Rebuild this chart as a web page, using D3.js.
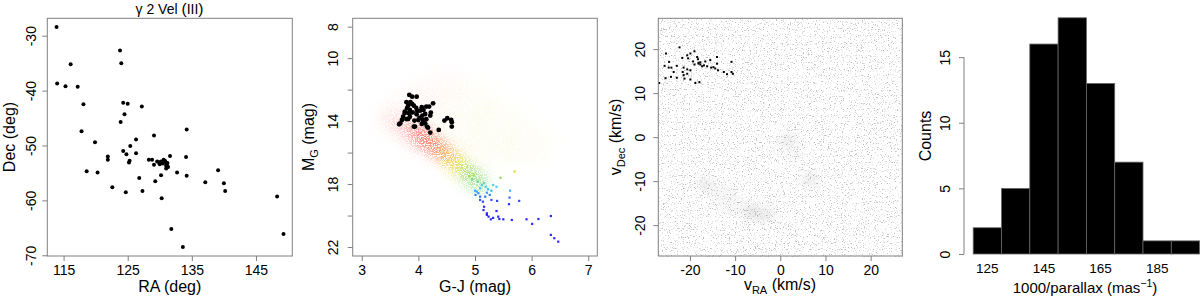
<!DOCTYPE html>
<html><head><meta charset="utf-8">
<script src="https://cdn.jsdelivr.net/npm/d3@7"></script>
<style>
html,body{margin:0;padding:0;background:#fff;}
svg{display:block;font-family:"Liberation Sans",Arial,Helvetica,sans-serif;}
</style></head>
<body>
<svg id="c" width="1200" height="299"></svg>
<script>
// ---------- DATA ----------
const titleParts = ["γ 2 Vel ", "(", "III", ")"];
// Panel 1: sky positions
const skyRA  = [113.9,123.8,124.0,116.1,114.0,115.3,117.2,118.1,124.3,125.0,127.2,124.5,123.9,117.8,134.2,129.1,126.3,119.9,125.4,124.3,124.8,126.3,121.9,121.9,125.3,125.2,128.3,128.8,129.1,129.9,130.2,130.6,130.9,131.2,131.0,131.3,131.0,131.6,134.1,118.6,120.3,132.7,130.2,134.2,126.8,139.1,129.3,137.1,140.0,122.6,127.3,124.7,140.2,130.3,148.3,131.8,149.3,133.6,130.5,130.8,131.1,129.6,130.0];
const skyDec = [-28.4,-32.7,-35.0,-35.2,-38.7,-39.2,-39.3,-42.5,-42.2,-42.4,-42.9,-44.3,-45.7,-47.4,-47.1,-48.2,-48.9,-49.4,-50.1,-51.0,-51.6,-51.4,-52.0,-52.6,-52.8,-53.1,-52.6,-52.6,-53.5,-53.1,-52.9,-52.6,-53.0,-53.2,-53.7,-53.9,-54.2,-51.9,-52.1,-54.7,-54.9,-54.9,-55.4,-55.5,-55.9,-54.5,-56.5,-56.7,-56.9,-57.6,-58.3,-58.5,-58.3,-59.6,-59.3,-65.2,-66.1,-68.5,-53.3,-52.8,-53.5,-52.9,-53.4];
const raTicks = [115,125,135,145];
const decTicks = [-30,-40,-50,-60,-70];

// Panel 2: colour-magnitude diagram
const memGJ = [3.84,3.89,3.79,3.86,3.92,3.82,4.26,4.19,4.14,3.80,3.85,4.09,3.90,3.98,3.76,3.83,4.22,3.97,4.07,3.73,3.79,4.02,4.14,4.21,3.71,3.68,3.93,4.09,4.06,4.12,3.92,4.15,4.51,4.58,4.46,4.59,4.36,4.21,4.59,3.97,4.06,4.03,3.76,3.87,4.00,4.17,3.94,3.82,4.08,4.12,3.89,3.66,3.85,3.96];
const memMG = [12.34,12.45,12.80,12.80,13.02,13.02,12.87,13.08,13.08,13.18,13.29,13.29,13.44,13.34,13.50,13.50,13.46,13.57,13.65,13.72,13.88,13.80,13.88,13.65,13.93,14.14,13.97,14.04,14.18,14.14,14.35,14.35,13.82,13.93,13.97,14.07,14.56,14.73,14.35,12.45,13.12,13.34,13.40,13.46,13.93,14.42,14.35,13.86,13.93,13.55,12.91,14.20,13.73,13.16];
const fieldGJ = [6.34,6.01,5.91,6.12,5.65,5.50,5.43,5.41,5.32,5.28,5.24,5.21,6.34,6.40,6.47,5.78,5.61,5.60,5.62,5.38,5.16,5.14,5.09,5.00,5.01,5.06,5.18,5.21,5.26,5.29,5.39,5.38,5.12,5.16,5.19,5.09,5.32,5.23,5.29,5.03,5.09,5.15,5.21,4.95,4.90,5.05,4.98,5.45,5.70];
const fieldMG = [20.03,20.53,20.24,20.22,20.28,20.24,20.22,20.07,20.15,20.24,20.07,19.96,21.23,21.44,21.66,19.07,18.86,19.28,18.42,19.71,19.44,19.12,18.80,18.42,18.69,18.58,18.80,18.55,18.69,19.01,19.07,18.17,18.06,17.95,18.17,18.27,18.06,18.33,18.42,18.48,19.01,19.65,19.86,17.70,17.50,17.85,17.40,17.60,17.20];
// diffuse field population (density ridge)
const cloudGJ = [3.55,3.80,4.00,4.15,4.30,4.45,4.58,4.70,4.80,4.90,5.00];
const cloudMG = [14.0,14.4,14.8,15.2,15.6,16.0,16.4,16.8,17.1,17.4,17.7];
const fanGJ = [3.9,4.4,4.9,5.4,5.9,4.6,5.2];
const fanMG = [13.0,12.0,12.8,14.0,15.5,14.8,16.0];
const gjTicks = [3,4,5,6,7];
const mgTicks = [8,10,12,14,16,18,20,22];
const mgLabels = [8,10,14,18,22];

// Panel 3: tangential velocities
const velRA  = [-22.3,-19.0,-25.3,-19.9,-20.6,-18.4,-21.7,-20.4,-14.0,-18.2,-15.5,-16.6,-24.6,-10.8,-18.1,-17.7,-19.0,-17.3,-16.2,-14.8,-14.0,-25.6,-24.7,-24.1,-22.9,-21.4,-20.6,-19.9,-15.3,-14.4,-13.8,-12.5,-10.8,-11.8,-10.5,-23.6,-21.6,-20.6,-25.4,-24.2,-22.9,-21.4,-21.2,-19.9,-18.8,-17.9,-26.8,-17.7,-18.1,-19.3,-16.9];
const velDec = [20.4,19.5,19.0,19.0,18.6,18.2,18.0,17.9,18.2,17.7,17.5,17.2,17.1,17.1,16.9,16.5,16.5,16.1,16.1,15.9,16.7,16.2,15.8,15.8,16.2,15.8,15.4,15.2,15.8,15.6,15.2,14.8,14.8,14.3,14.4,14.8,14.8,14.4,13.4,13.7,13.5,14.1,13.3,13.1,12.3,12.5,12.3,17.0,16.7,17.2,16.3];
// field over-densities in velocity space
const blobRA  = [1.5,6.5,-7.0,-4.0,-16.5,-12.0,3.5];
const blobDec = [-0.8,-9.6,-16.6,-17.5,-10.8,-14.0,-4.0];
const vTicks = [-20,-10,0,10,20];

// Panel 4: histogram of distance
const distEdges  = [120,130,140,150,160,170,180,190,200];
const distCounts = [2,5,16,18,13,7,1,1];
const distLabels = [125,145,165,185];
const countTicks = [0,5,10,15];

// ---------- DRAWING ----------
const svg = d3.select("#c");
const gray = "#808080";
const defs = svg.append("defs");

// speckle texture filter (panel 3 field)
const f1 = defs.append("filter").attr("id","speckle").attr("filterUnits","userSpaceOnUse")
  .attr("x",658).attr("y",18).attr("width",245).attr("height",239);
f1.append("feTurbulence").attr("type","fractalNoise").attr("baseFrequency","0.85").attr("numOctaves",2).attr("seed",5).attr("result","n");
f1.append("feColorMatrix").attr("in","n").attr("type","matrix")
  .attr("values","0 0 0 0 0.52  0 0 0 0 0.52  0 0 0 0 0.52  6 0 0 0 -3.55");

// speckled cloud filter (panel 2 field)
const f2 = defs.append("filter").attr("id","cloudf").attr("filterUnits","userSpaceOnUse")
  .attr("x",353).attr("y",18).attr("width",245).attr("height",239);
f2.append("feGaussianBlur").attr("in","SourceGraphic").attr("stdDeviation",7).attr("result","b");
f2.append("feTurbulence").attr("type","fractalNoise").attr("baseFrequency","0.9").attr("numOctaves",2).attr("seed",11).attr("result","n");
f2.append("feColorMatrix").attr("in","n").attr("type","matrix")
  .attr("values","0 0 0 0 0  0 0 0 0 0  0 0 0 0 0  5 0 0 0 -1.8").attr("result","m");
f2.append("feComposite").attr("in","b").attr("in2","m").attr("operator","in");

const fb = defs.append("filter").attr("id","blobf").attr("x","-1").attr("y","-1").attr("width","3").attr("height","3");
fb.append("feGaussianBlur").attr("stdDeviation",5);

function box(x, y){
  const [x0,x1]=x.range(), [y0,y1]=y.range();
  svg.append("rect").attr("x",x0).attr("y",Math.min(y0,y1)).attr("width",x1-x0).attr("height",Math.abs(y1-y0))
    .attr("fill","none").attr("stroke",gray).attr("stroke-width",1);
}
function xAxis(x, yPos, ticks, labels){
  const g = svg.append("g").attr("transform",`translate(0,${yPos})`)
    .call(d3.axisBottom(x).tickValues(ticks).tickSize(5).tickFormat(d=> labels? (labels.includes(d)?d:"") : d));
  g.select(".domain").remove();
  g.selectAll(".tick line").attr("stroke",gray);
  g.selectAll("text").attr("y",19).attr("dy",0).attr("fill","#000").style("font-size","14px")
    .style("font-family",'"Liberation Sans",Arial,sans-serif');
  return g;
}
function yAxis(y, xPos, ticks, labels, off){
  const g = svg.append("g").attr("transform",`translate(${xPos},0)`)
    .call(d3.axisLeft(y).tickValues(ticks).tickSize(5).tickFormat(d=> labels? (labels.includes(d)?d:"") : d));
  g.select(".domain").remove();
  g.selectAll(".tick line").attr("stroke",gray);
  g.selectAll("text").attr("transform","rotate(-90)").attr("x",0).attr("y",-off).attr("dy",0)
    .attr("text-anchor","middle").attr("fill","#000").style("font-size","14px")
    .style("font-family",'"Liberation Sans",Arial,sans-serif');
  return g;
}
function vlabel(xb, yc, parts){
  const t = svg.append("text").attr("transform",`translate(${xb},${yc}) rotate(-90)`)
    .attr("text-anchor","middle").style("font-size","16px");
  parts.forEach(p=>{
    const s=t.append("tspan").text(p.t);
    if(p.sub){ s.style("font-size","11px").attr("dy",4); }
    if(p.after){ s.attr("dy",-4); }
  });
  return t;
}
function hlabel(xc, yb, parts, fs){
  const t = svg.append("text").attr("x",xc).attr("y",yb).attr("text-anchor","middle").style("font-size",(fs||16)+"px");
  parts.forEach(p=>{
    const s=t.append("tspan").text(p.t);
    if(p.sub){ s.style("font-size","11px").attr("dy",4); }
    if(p.sup){ s.style("font-size","10.5px").attr("dy",-6); }
    if(p.after){ s.attr("dy",p.after); }
  });
  return t;
}

// ---- Panel 1 ----
const x1 = d3.scaleLinear().domain([112.46,150.67]).range([47.3,292.3]);
const y1 = d3.scaleLinear().domain([-70.13,-26.83]).range([256,18.3]);
svg.append("g").selectAll("circle").data(skyRA).join("circle")
  .attr("cx",(d,i)=>x1(d)).attr("cy",(d,i)=>y1(skyDec[i])).attr("r",2).attr("fill","#000");
box(x1,y1);
xAxis(x1,256,raTicks);
yAxis(y1,47.3,decTicks,null,11);
const tt = svg.append("text").attr("x",169.5).attr("y",13.5).attr("text-anchor","middle").style("font-size","14px");
titleParts.forEach((p,i)=>{ const s=tt.append("tspan").text(p); if(i===1||i===3) s.style("font-size","15.5px"); });
hlabel(169.7,292,[{t:"RA (deg)"}]);
vlabel(15,137,[{t:"Dec (deg)"}]);

// ---- Panel 2 ----
const x2 = d3.scaleLinear().domain([2.84,7.16]).range([352.7,597.3]);
const y2 = d3.scaleLinear().domain([7.47,22.57]).range([18.3,256]);
const mcol = d3.scaleLinear().domain([13.5,15.5,16.4,17.0,17.5,18.2,19.3])
  .range(["#ffb8b8","#ff5a50","#ff9a40","#ffe020","#a0e040","#40d0ff","#2a2aff"]).clamp(true);
const cg = svg.append("g").attr("filter","url(#cloudf)");
cg.selectAll("ellipse.f").data(fanGJ).join("ellipse").attr("class","f")
  .attr("cx",d=>x2(d)).attr("cy",(d,i)=>y2(fanMG[i])).attr("rx",28).attr("ry",20)
  .attr("fill",(d,i)=>i<2?"#ffd8d0":"#f4f0b0").attr("opacity",0.15);
cg.selectAll("ellipse.b").data(cloudGJ).join("ellipse").attr("class","b")
  .attr("transform",(d,i)=>`translate(${x2(d)},${y2(cloudMG[i])}) rotate(43)`)
  .attr("rx",15).attr("ry",(d,i)=>i<3?12:8)
  .attr("fill",(d,i)=>mcol(cloudMG[i])).attr("opacity",(d,i)=>i<2?0.25:(i<3?0.55:0.95));
svg.append("g").selectAll("rect").data(fieldGJ).join("rect")
  .attr("x",d=>x2(d)-1.1).attr("y",(d,i)=>y2(fieldMG[i])-1.1).attr("width",2.2).attr("height",2.2)
  .attr("fill",(d,i)=>mcol(fieldMG[i]));
svg.append("g").selectAll("circle").data(memGJ).join("circle")
  .attr("cx",d=>x2(d)).attr("cy",(d,i)=>y2(memMG[i])).attr("r",2.4).attr("fill","#000");
box(x2,y2);
xAxis(x2,256,gjTicks);
yAxis(y2,352.7,mgTicks,mgLabels,14.4);
hlabel(475,292,[{t:"G-J (mag)"}]);
vlabel(314,137,[{t:"M"},{t:"G",sub:true},{t:" (mag)",after:true}]);

// ---- Panel 3 ----
const x3 = d3.scaleLinear().domain([-27,27]).range([658.3,902.3]);
const y3 = d3.scaleLinear().domain([-27,27]).range([256,18.3]);
svg.append("rect").attr("x",658.3).attr("y",18.3).attr("width",244).attr("height",237.7)
  .attr("fill","#fff").attr("filter","url(#speckle)");
svg.append("g").selectAll("ellipse").data(blobRA).join("ellipse")
  .attr("cx",d=>x3(d)).attr("cy",(d,i)=>y3(blobDec[i])).attr("rx",(d,i)=>i===3||i===5?14:9).attr("ry",(d,i)=>i===5?16:7)
  .attr("fill","#777").attr("opacity",(d,i)=>i>=5?0.06:0.14).attr("filter","url(#blobf)");
svg.append("g").selectAll("rect").data(velRA).join("rect")
  .attr("x",d=>x3(d)-1).attr("y",(d,i)=>y3(velDec[i])-1).attr("width",2).attr("height",2).attr("fill","#000");
box(x3,y3);
xAxis(x3,256,vTicks);
yAxis(y3,658.3,vTicks,null,13.3);
hlabel(780,290,[{t:"v"},{t:"RA",sub:true},{t:" (km/s)",after:-4}]);
vlabel(621,137,[{t:"v"},{t:"Dec",sub:true},{t:" (km/s)",after:true}]);

// ---- Panel 4 ----
const x4 = d3.scaleLinear().domain([120,200]).range([973.2,1199.6]);
const y4 = d3.scaleLinear().domain([0,18]).range([254,17.8]);
svg.append("g").selectAll("rect").data(distCounts).join("rect")
  .attr("x",(d,i)=>x4(distEdges[i])).attr("y",d=>y4(d))
  .attr("width",(d,i)=>x4(distEdges[i+1])-x4(distEdges[i])).attr("height",d=>y4(0)-y4(d))
  .attr("fill","#000").attr("stroke","#666").attr("stroke-width",0.8);
yAxis(y4,964,countTicks,null,14);
svg.append("line").attr("x1",964).attr("x2",964).attr("y1",y4(countTicks[0])).attr("y2",y4(countTicks[countTicks.length-1]))
  .attr("stroke",gray);
svg.append("g").selectAll("text").data(distLabels).join("text")
  .attr("x",d=>x4(d)).attr("y",273).attr("text-anchor","middle").style("font-size","13.5px").text(d=>d);
hlabel(1085,293,[{t:"1000/parallax (mas"},{t:"−1",sup:true},{t:")",after:6}],15);
vlabel(931,136,[{t:"Counts"}]);
</script>
</body></html>
